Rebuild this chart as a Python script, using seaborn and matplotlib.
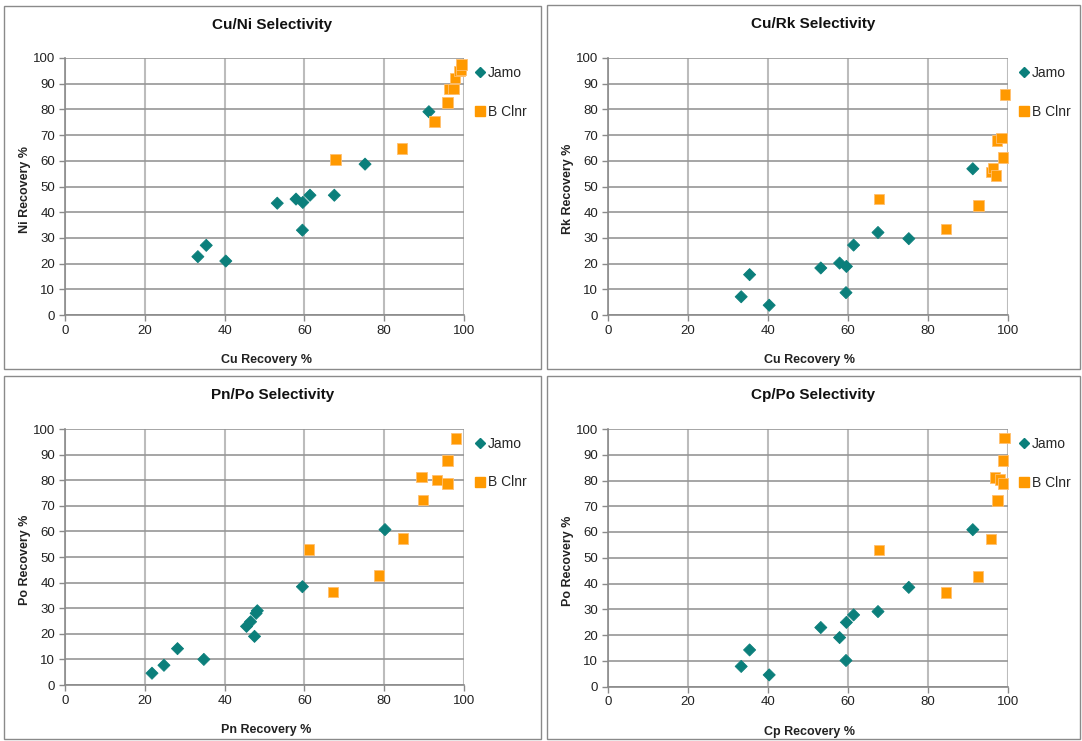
import matplotlib
matplotlib.use('Agg')
import matplotlib.pyplot as plt
from matplotlib.lines import Line2D
from matplotlib.patches import Rectangle
import pandas as pd
import seaborn as sns

# ── Data ─────────────────────────────────────────────────────────────────────
SERIES = ['Jamo', 'B Clnr']

# Jamo series
jamo_cu = [33.3, 35.4, 40.3, 53.2, 57.9, 59.6, 59.5, 61.4, 67.5, 75.2, 91.2]
jamo_ni = [22.7, 27.1, 21.0, 43.5, 45.1, 43.8, 33.0, 46.6, 46.6, 58.7, 79.1]
jamo_rk = [7.1, 15.7, 3.8, 18.3, 20.2, 18.9, 8.7, 27.2, 32.1, 29.7, 56.9]
jamo_pn = [21.8, 24.8, 28.2, 34.8, 45.5, 46.5, 47.5, 47.9, 48.2, 59.5, 80.2]
jamo_po_pn = [4.6, 7.7, 14.2, 10.0, 22.9, 24.7, 19.0, 28.0, 29.0, 38.4, 60.7]
jamo_cp = [33.3, 35.4, 40.3, 53.2, 57.9, 59.6, 59.5, 61.4, 67.5, 75.2, 91.2]
jamo_po_cp = [7.8, 14.2, 4.5, 22.9, 19.0, 24.9, 10.1, 27.8, 29.1, 38.5, 60.9]

# B Clnr series
bcl_cu_ni = [67.8, 84.5, 92.6, 95.9, 96.4, 97.3, 97.7, 98.8, 99.2, 99.4]
bcl_ni = [60.5, 64.7, 75.4, 82.7, 88.0, 88.0, 92.3, 94.9, 95.5, 97.5]
bcl_cu_rk = [67.8, 84.5, 92.6, 95.7, 96.2, 97.0, 97.3, 98.4, 98.7, 99.3]
bcl_rk = [45.1, 33.4, 42.6, 55.6, 57.2, 54.3, 67.8, 68.8, 61.3, 85.8]
bcl_pn = [61.1, 67.2, 78.7, 84.7, 89.4, 89.7, 93.2, 95.8, 95.9, 98.0]
bcl_po_pn = [52.9, 36.3, 42.7, 57.3, 81.3, 72.2, 80.0, 78.7, 87.8, 96.4]
bcl_cp = [67.8, 84.5, 92.5, 95.7, 96.7, 97.4, 98.0, 98.7, 98.7, 99.1]
bcl_po_cp = [53.0, 36.4, 42.7, 57.3, 81.2, 72.3, 80.3, 78.8, 87.8, 96.5]

PANELS = [
    ('Cu/Ni Selectivity', 'Cu Recovery %', 'Ni Recovery %', jamo_cu, jamo_ni, bcl_cu_ni, bcl_ni),
    ('Cu/Rk Selectivity', 'Cu Recovery %', 'Rk Recovery %', jamo_cu, jamo_rk, bcl_cu_rk, bcl_rk),
    ('Pn/Po Selectivity', 'Pn Recovery %', 'Po Recovery %', jamo_pn, jamo_po_pn, bcl_pn, bcl_po_pn),
    ('Cp/Po Selectivity', 'Cp Recovery %', 'Po Recovery %', jamo_cp, jamo_po_cp, bcl_cp, bcl_po_cp),
]

COLORS = {'Jamo': '#0b7f7b', 'B Clnr': '#ff9900'}
MARKERS = {'Jamo': 'D', 'B Clnr': 's'}
SIZES = {'Jamo': 38, 'B Clnr': 58}

# ── Layout (pixels) ──────────────────────────────────────────────────────────
W, H = 1082, 741
# axes boxes: left, top, right, bottom
AX_BOXES = [(65, 58, 464, 315), (608, 58, 1008, 315),
            (65, 429, 464, 685), (608, 429, 1008, 686.5)]
PANEL_BOXES = [(4, 6, 541, 369), (547, 5, 1080, 369),
               (4, 376, 541, 739), (547, 376, 1080, 739)]

sns.set_style('white')
plt.rcParams['font.family'] = ['Liberation Sans', 'DejaVu Sans']

fig = plt.figure(figsize=(W / 100, H / 100), dpi=100)

for (x0, y0, x1, y1) in PANEL_BOXES:
    fig.patches.append(Rectangle((x0 / W, 1 - y1 / H), (x1 - x0) / W, (y1 - y0) / H,
                                 transform=fig.transFigure, fill=False,
                                 edgecolor='#8a8a8a', lw=1.0))

for (title, xlab, ylab, jx, jy, bx, by), box, pbox in zip(PANELS, AX_BOXES, PANEL_BOXES):
    l, t, r, b = box
    ax = fig.add_axes([l / W, 1 - b / H, (r - l) / W, (b - t) / H])

    df = pd.DataFrame({
        'x': jx + bx,
        'y': jy + by,
        'series': ['Jamo'] * len(jx) + ['B Clnr'] * len(bx),
    })
    sns.scatterplot(data=df, x='x', y='y', hue='series', style='series', size='series',
                    palette=COLORS, markers=MARKERS, sizes=SIZES, hue_order=SERIES,
                    style_order=SERIES, size_order=SERIES, linewidth=0.6,
                    legend=False, ax=ax, zorder=3, clip_on=False)
    # light rim on the squares only
    ax.collections[0].set_edgecolors(
        [COLORS['Jamo'] if s == 'Jamo' else '#ffc070' for s in df['series']])

    ax.set_xlim(0, 100)
    ax.set_ylim(0, 100)
    ax.set_xticks(range(0, 101, 20))
    ax.set_yticks(range(0, 101, 10))
    ax.tick_params(axis='both', labelsize=9.5, length=4, width=1, direction='out',
                   left=True, bottom=True, pad=3, colors='#8a8a8a', labelcolor='#222222')

    ax.set_axisbelow(True)
    ax.yaxis.grid(True, color='#969696', lw=1.2)
    ax.xaxis.grid(True, color='#bcbcbc', lw=1.5)
    for side in ['top', 'right']:
        ax.spines[side].set_visible(False)
    for side in ['left', 'bottom']:
        ax.spines[side].set_color('#8a8a8a')
        ax.spines[side].set_linewidth(1.2)

    ax.set_xlabel(xlab, fontsize=9, fontweight='bold', color='#222222')
    ax.set_ylabel(ylab, fontsize=9, fontweight='bold', color='#222222')
    ax.xaxis.label.set_va('center')
    ax.yaxis.label.set_va('center')
    ax.xaxis.set_label_coords(0.505, -(45 / (b - t)))
    ax.yaxis.set_label_coords(-(l - pbox[0] - 21) / (r - l), 0.49)

    fig.text(((pbox[0] + pbox[2]) / 2) / W, 1 - (pbox[1] + 19) / H, title,
             ha='center', va='center', fontsize=11, fontweight='bold', color='#111111')

    handles = [
        Line2D([], [], ls='none', marker='D', markersize=5.5, color=COLORS['Jamo'], label='Jamo'),
        Line2D([], [], ls='none', marker='s', markersize=7, color=COLORS['B Clnr'], label='B Clnr'),
    ]
    ax.legend(handles=handles, loc='upper left', bbox_to_anchor=(1.028, 0.968),
              frameon=False, fontsize=10, handlelength=0.7, handletextpad=0.2,
              labelspacing=1.75, borderpad=0, borderaxespad=0)

fig.savefig('out.png', dpi=100)
